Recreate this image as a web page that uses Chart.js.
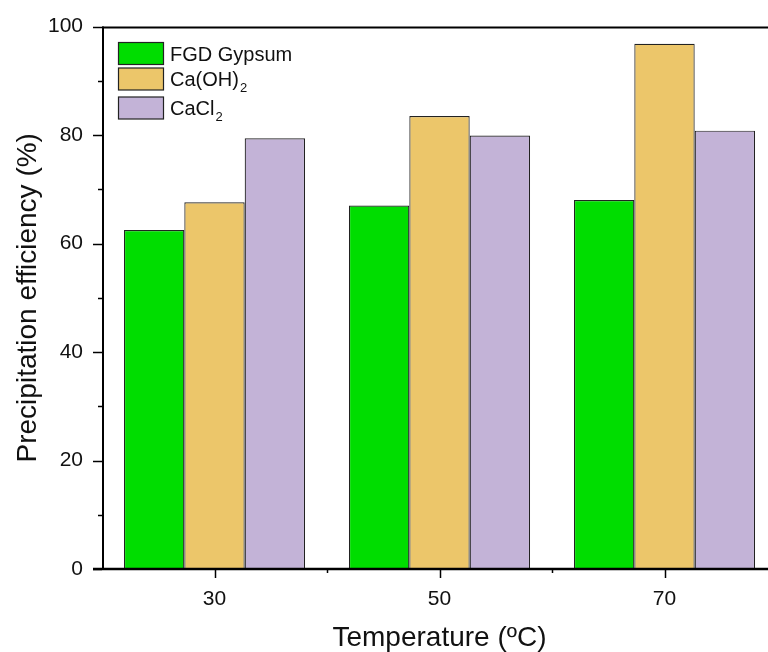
<!DOCTYPE html>
<html>
<head>
<meta charset="utf-8">
<script src="https://cdn.jsdelivr.net/npm/chart.js@4.4.1/dist/chart.umd.min.js"></script>
<style>
    html, body { margin: 0; padding: 0; background: #fff; overflow: hidden; }
    #wrap { width: 780px; height: 652px; }
</style>
</head>
<body>
<div id="wrap"><canvas id="chart-precipitacion" width="780" height="652"></canvas></div>
<script>
// Datos del gráfico
const temperaturas = ['30', '50', '70'];
const nombresSeries = ['FGD Gypsum', 'Ca(OH)', 'CaCl'];
const subindicesSeries = ['', '2', '2'];
const coloresSeries = ['rgb(0, 221, 0)', 'rgb(236, 198, 106)', 'rgb(195, 179, 215)'];
const valoresYeso = [62.5, 67.0, 68.0];
const valoresHidroxido = [67.6, 83.5, 96.8];
const valoresCloruro = [79.4, 79.9, 80.8];
const ticksY = [0, 20, 40, 60, 80, 100];
const ticksMenoresY = [10, 30, 50, 70, 90];

const FUENTE = 'Arial, "Liberation Sans", sans-serif';

/**
 * Ejes con marcas mayores y menores (estilo Origin)
 */
const pluginEjes = {
    id: 'ejes',
    afterDatasetsDraw(chart) {
        const { ctx, chartArea } = chart;
        const x = chart.scales.x;
        const y = chart.scales.y;
        ctx.save();
        ctx.strokeStyle = '#000';

        // Marcas del eje Y
        ctx.lineWidth = 1.5;
        ticksY.forEach(v => {
            const py = Math.round(y.getPixelForValue(v)) + 0.5;
            ctx.beginPath();
            ctx.moveTo(chartArea.left - 9, py);
            ctx.lineTo(chartArea.left, py);
            ctx.stroke();
        });
        ticksMenoresY.forEach(v => {
            const py = Math.round(y.getPixelForValue(v)) + 0.5;
            ctx.beginPath();
            ctx.moveTo(chartArea.left - 4, py);
            ctx.lineTo(chartArea.left, py);
            ctx.stroke();
        });

        // Marcas del eje X
        temperaturas.forEach((t, i) => {
            const px = Math.round(x.getPixelForValue(i)) + 0.5;
            ctx.beginPath();
            ctx.moveTo(px, chartArea.bottom);
            ctx.lineTo(px, chartArea.bottom + 9);
            ctx.stroke();
            if (i > 0) {
                const pm = Math.round((x.getPixelForValue(i - 1) + x.getPixelForValue(i)) / 2) + 0.5;
                ctx.beginPath();
                ctx.moveTo(pm, chartArea.bottom);
                ctx.lineTo(pm, chartArea.bottom + 4);
                ctx.stroke();
            }
        });

        // Líneas de los ejes
        ctx.lineWidth = 2;
        ctx.beginPath();
        ctx.moveTo(chartArea.left + 1, chartArea.top);
        ctx.lineTo(chartArea.left + 1, chartArea.bottom);
        ctx.stroke();
        ctx.beginPath();
        ctx.moveTo(chartArea.left, chartArea.top + 1);
        ctx.lineTo(chartArea.right, chartArea.top + 1);
        ctx.stroke();
        ctx.lineWidth = 2.5;
        ctx.beginPath();
        ctx.moveTo(chartArea.left - 9, chartArea.bottom);
        ctx.lineTo(chartArea.right, chartArea.bottom);
        ctx.stroke();
        ctx.restore();
    }
};

/**
 * Leyenda con subíndices
 */
const pluginLeyenda = {
    id: 'leyendaSubindices',
    afterDraw(chart) {
        const { ctx } = chart;
        const filas = [53.5, 79, 108];
        ctx.save();
        nombresSeries.forEach((nombre, i) => {
            const cy = filas[i];
            ctx.fillStyle = coloresSeries[i];
            ctx.fillRect(118.5, cy - 11, 45, 22);
            ctx.strokeStyle = '#222';
            ctx.lineWidth = 1.2;
            ctx.strokeRect(118.5, cy - 11, 45, 22);

            const base = cy + 7;
            ctx.fillStyle = '#111';
            ctx.textBaseline = 'alphabetic';
            ctx.textAlign = 'left';
            ctx.font = '20px ' + FUENTE;
            ctx.fillText(nombre, 170, base);
            if (subindicesSeries[i]) {
                const ancho = ctx.measureText(nombre).width;
                ctx.font = '13px ' + FUENTE;
                ctx.fillText(subindicesSeries[i], 170 + ancho + 1, base + 6);
            }
        });
        ctx.restore();
    }
};

const listasValores = [valoresYeso, valoresHidroxido, valoresCloruro];

const chartPrecipitacion = new Chart(document.getElementById('chart-precipitacion').getContext('2d'), {
    type: 'bar',
    data: {
        labels: temperaturas,
        datasets: nombresSeries.map((nombre, i) => ({
            label: nombre + subindicesSeries[i],
            data: listasValores[i],
            backgroundColor: coloresSeries[i],
            borderColor: '#222',
            borderWidth: 1.2,
            categoryPercentage: 0.805,
            barPercentage: 1.0
        }))
    },
    options: {
        responsive: false,
        animation: false,
        layout: {
            padding: { top: 26.5, right: 3, left: 0, bottom: 0 }
        },
        plugins: {
            legend: { display: false },
            tooltip: { enabled: false }
        },
        scales: {
            x: {
                offset: true,
                grid: { display: false },
                border: { display: false },
                ticks: {
                    color: '#111',
                    padding: 10,
                    font: { family: FUENTE, size: 21 }
                },
                title: {
                    display: true,
                    text: 'Temperature (ºC)',
                    color: '#111',
                    padding: { top: 0, bottom: 0 },
                    font: { family: FUENTE, size: 28, lineHeight: 1 }
                },
                afterFit(scale) {
                    scale.height = 83;
                }
            },
            y: {
                min: 0,
                max: 100,
                grid: { display: false },
                border: { display: false },
                ticks: {
                    stepSize: 20,
                    color: '#111',
                    padding: 11,
                    font: { family: FUENTE, size: 21 }
                },
                title: {
                    display: true,
                    text: 'Precipitation efficiency (%)',
                    color: '#111',
                    padding: { top: 14, bottom: 0 },
                    font: { family: FUENTE, size: 28, lineHeight: 1 }
                },
                afterFit(scale) {
                    scale.width = 102;
                }
            }
        }
    },
    plugins: [pluginEjes, pluginLeyenda]
});
</script>
</body>
</html>
